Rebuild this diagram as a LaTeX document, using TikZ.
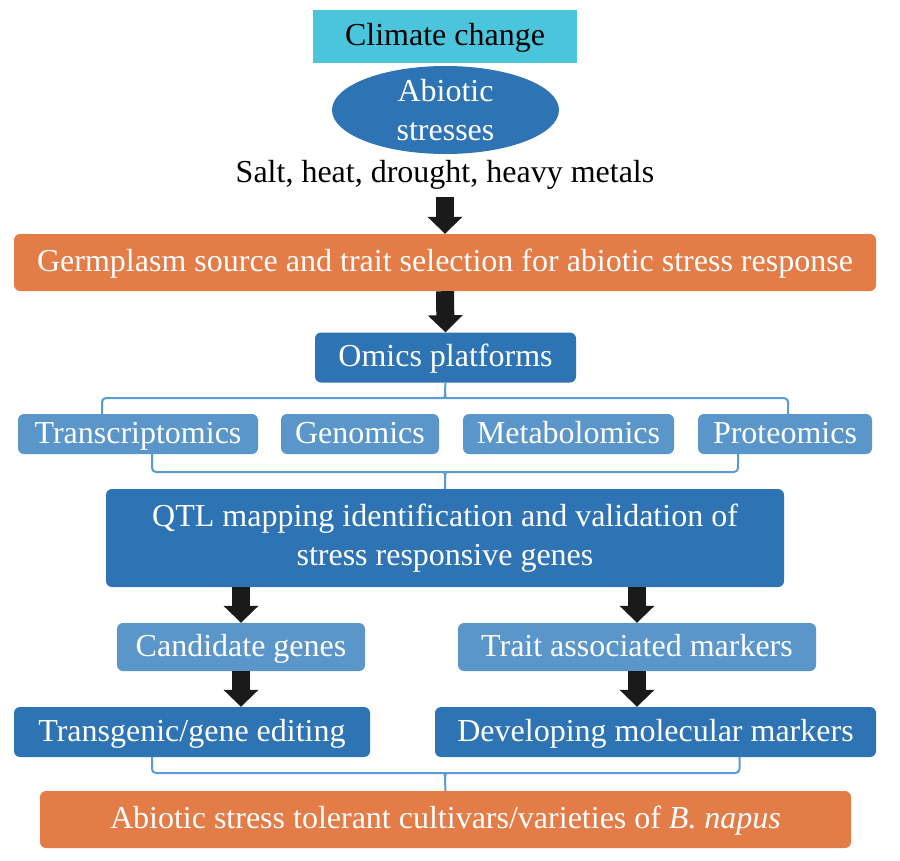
\documentclass[tikz,border=0pt]{standalone}
\usepackage{fontspec}
\setmainfont{Liberation Serif}
\usetikzlibrary{arrows.meta,shapes.geometric}
\definecolor{climcyan}{HTML}{4BC5DC}
\definecolor{darkblue}{HTML}{2E74B5}
\definecolor{lightblue}{HTML}{5A96CA}
\definecolor{orangebox}{HTML}{E47C48}
\definecolor{linkblue}{HTML}{5B9BD5}
\definecolor{arrowblack}{HTML}{1A1A1A}
\begin{document}
\begin{tikzpicture}[x=1pt,y=-1pt,
		every node/.style={font=\fontsize{32}{39}\selectfont, align=center, inner sep=0pt},
		oneline/.style={text height=23pt, text depth=5pt},
		box/.style={rectangle, rounded corners=6pt, text=white, oneline},
		bkt/.style={draw=linkblue, line width=2pt, rounded corners=4pt},
		blockarrow/.style={draw=arrowblack, line width=18pt, -{Triangle[width=34pt,length=17pt]}, arrowblack}]
		\useasboundingbox (0,0) rectangle (900,860);
		% Top
		\node [fill=climcyan, oneline, minimum width=264, minimum height=53] (climate) at (445,36.5) {Climate change};
		\node [ellipse, fill=darkblue, text=white, minimum width=227, minimum height=88] (abiotic) at (445.5,110) {Abiotic\\stresses};
		\node [oneline] (salt) at (445,173) {Salt, heat, drought, heavy metals};
		\node [box, fill=orangebox, minimum width=862, minimum height=57] (germ) at (445,262.5) {Germplasm source and trait selection for abiotic stress response};
		\draw [blockarrow] ([yshift=-10pt]salt.south) -- (germ.north);
		% Omics
		\node [box, fill=darkblue, minimum width=261, minimum height=50] (omics) at (445.5,357.5) {Omics platforms};
		\draw [blockarrow] (germ.south) -- (omics.north);
		\node [box, fill=lightblue, minimum width=240, minimum height=40] (transc) at (138,434) {Transcriptomics};
		\node [box, fill=lightblue, minimum width=158, minimum height=40] (genom) at (360,434) {Genomics};
		\node [box, fill=lightblue, minimum width=211, minimum height=40] (metab) at (568.5,434) {Metabolomics};
		\node [box, fill=lightblue, minimum width=174, minimum height=40] (prot) at (785,434) {Proteomics};
		\draw [bkt] ([xshift=-36]transc.north) |- (440,398) .. controls (444,398) and (445,396) .. (445,391) -- (omics.south);
		\draw [bkt] ([xshift=3]prot.north) |- (450,398) .. controls (446,398) and (445,396) .. (445,391);
		% QTL
		\node [rectangle, rounded corners=6pt, text=white, fill=darkblue, minimum width=678, minimum height=98] (qtl) at (445,538) {QTL mapping identification and validation of\\stress responsive genes};
		\draw [bkt] ([xshift=14]transc.south) |- (440,472) .. controls (444,472) and (445,474) .. (445,479) -- (qtl.north);
		\draw [bkt] ([xshift=-47]prot.south) |- (450,472) .. controls (446,472) and (445,474) .. (445,479);
		% Two branches
		\node [box, fill=lightblue, minimum width=248, minimum height=48] (cand) at (241,647) {Candidate genes};
		\node [box, fill=lightblue, minimum width=358, minimum height=48] (trait) at (637,647) {Trait associated markers};
		\draw [blockarrow] (cand.north |- qtl.south) -- (cand.north);
		\draw [blockarrow] (trait.north |- qtl.south) -- (trait.north);
		\node [box, fill=darkblue, minimum width=356, minimum height=50] (transg) at (192,732) {Transgenic/gene editing};
		\node [box, fill=darkblue, minimum width=441, minimum height=50] (devel) at (655.5,732) {Developing molecular markers};
		\draw [blockarrow] (cand.south) -- (cand.south |- transg.north);
		\draw [blockarrow] (trait.south) -- (trait.south |- devel.north);
		% Result
		\node [box, fill=orangebox, minimum width=811, minimum height=57] (result) at (445.5,819.5) {Abiotic stress tolerant cultivars/varieties of \textit{B. napus}};
		\draw [bkt] ([xshift=-40]transg.south) |- (440,773) .. controls (444,773) and (445,775) .. (445,780) -- (result.north);
		\draw [bkt] ([xshift=84]devel.south) |- (450,773) .. controls (446,773) and (445,775) .. (445,780);
	\end{tikzpicture}
\end{document}
